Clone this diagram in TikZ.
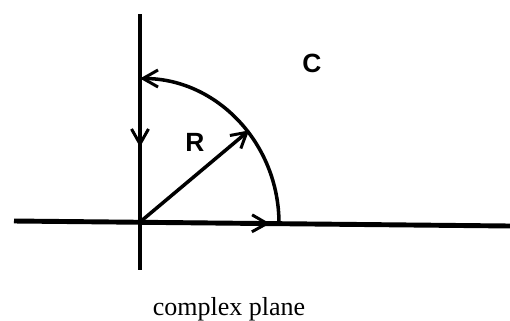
\documentclass[tikz,border=0pt]{standalone}
\usepackage{fontspec}
\setmainfont{Liberation Serif}
\setsansfont{Liberation Sans}
\usetikzlibrary{arrows.meta}
\tikzset{axis/.style={line width=2.8pt},
  path line/.style={line width=2pt},
  tip/.style={-{Straight Barb[length=3mm,width=3.4mm,line width=1.7pt]}},
  letter/.style={font=\fontsize{15}{17}\selectfont\bfseries\sffamily}}

\begin{document}
\begin{tikzpicture}
\useasboundingbox (-2.8,-1.96) rectangle (7.4,4.44);
\coordinate (O) at (0,0);
\coordinate (top) at (0,4.16);
\coordinate (bottom) at (0,-0.96);
\coordinate (left) at (-2.52,0.02);
\coordinate (right) at (7.4,-0.08);
\coordinate (A) at (2.78,-0.03);
\coordinate (B) at (0,2.9);
\coordinate (P) at (40:2.85);
\coordinate (down) at (0,1.5);
\draw[axis] (top) -- (bottom);
\draw[axis] (left) -- (right);
\draw[axis,tip] (B) -- (down);
\draw[path line,tip] (O) -- (2.6,-0.03);
\draw[path line,tip] (A) arc[start angle=0,end angle=90,x radius=2.78,y radius=2.9];
\draw[path line,tip] (O) -- (P);
\node[letter] (R) at (1.1,1.6) {R};
\node[letter] (C) at (3.44,3.18) {C};
\node[font=\fontsize{14.8}{18}\selectfont] (cap) at (1.78,-1.74) {complex plane};
\end{tikzpicture}
\end{document}
